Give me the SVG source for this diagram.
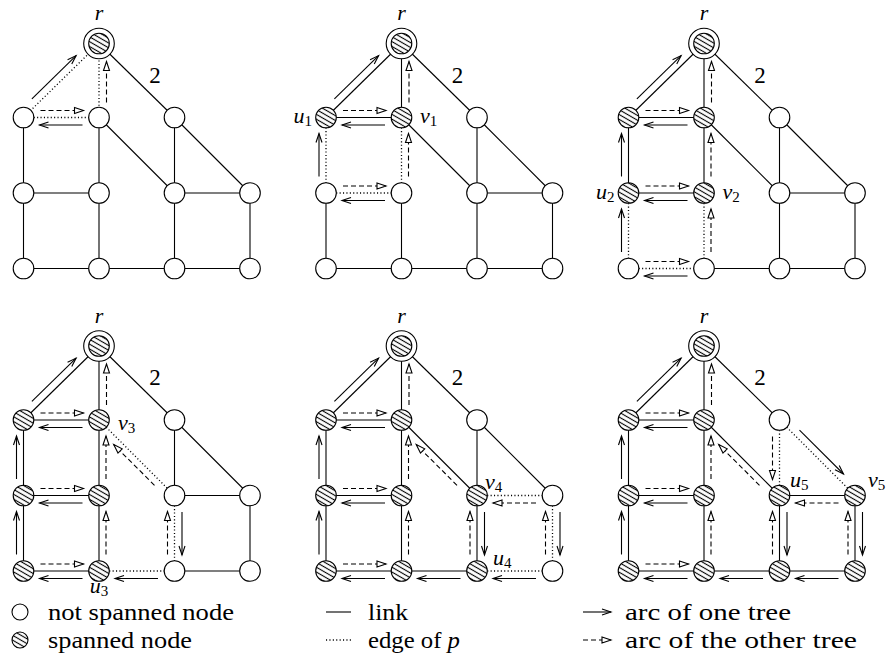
<svg xmlns="http://www.w3.org/2000/svg" width="887" height="661" viewBox="0 0 887 661">
<style>
.link{stroke:#000;stroke-width:1.1;fill:none}
.pe{stroke:#000;stroke-width:1.3;stroke-dasharray:1.1 2.3;fill:none}
.arc{stroke:#000;stroke-width:1.1;fill:none;marker-end:url(#ah)}
.arcd{stroke:#000;stroke-width:1.1;fill:none;stroke-dasharray:5 3;marker-end:url(#ahd)}
.n{fill:#fff;stroke:#000;stroke-width:1.1}
.s{fill:url(#hatch);stroke:#000;stroke-width:1.1}
.lab{font-family:"Liberation Serif","DejaVu Serif",serif;font-style:italic;font-size:22px;fill:#000}
.sub{font-size:15px;font-style:normal}
.num{font-family:"Liberation Serif","DejaVu Serif",serif;font-size:23px;fill:#000}
.leg{font-family:"Liberation Serif","DejaVu Serif",serif;font-size:23px;fill:#000}
</style>
<defs>
<pattern id="hatch" patternUnits="userSpaceOnUse" width="4.2" height="4.2" patternTransform="rotate(30)">
<rect width="4.2" height="4.2" fill="#fff"/>
<line x1="0" y1="2.1" x2="4.2" y2="2.1" stroke="#000" stroke-width="1.1"/>
</pattern>
<marker id="ah" markerUnits="userSpaceOnUse" markerWidth="12" markerHeight="8" refX="9" refY="3" orient="auto" overflow="visible">
<path d="M0,0 L9,3 L0,6" fill="none" stroke="#000" stroke-width="1.1"/>
</marker>
<marker id="ahd" markerUnits="userSpaceOnUse" markerWidth="12" markerHeight="8" refX="9" refY="3" orient="auto" overflow="visible">
<path d="M0,0 L9,3 L0,6 Z" fill="#fff" stroke="#000" stroke-width="1.1"/>
</marker>
</defs>

<!-- ================= PANEL 1 ================= -->
<g id="panel1" transform="translate(23.5,117.5)">
<g id="p1-connectors">
<line class="pe" x1="75.5" y1="-74" x2="0" y2="0"/>
<line class="pe" x1="75.5" y1="-74" x2="75.5" y2="0"/>
<line class="link" x1="75.5" y1="-74" x2="151" y2="0"/>
<line class="pe" x1="0" y1="0" x2="75.5" y2="0"/>
<line class="link" x1="0" y1="0" x2="0" y2="75.5"/>
<line class="link" x1="75.5" y1="0" x2="75.5" y2="75.5"/>
<line class="link" x1="75.5" y1="0" x2="151" y2="75.5"/>
<line class="link" x1="151" y1="0" x2="151" y2="75.5"/>
<line class="link" x1="151" y1="0" x2="226.5" y2="75.5"/>
<line class="link" x1="0" y1="75.5" x2="75.5" y2="75.5"/>
<line class="link" x1="151" y1="75.5" x2="226.5" y2="75.5"/>
<line class="link" x1="0" y1="75.5" x2="0" y2="151"/>
<line class="link" x1="75.5" y1="75.5" x2="75.5" y2="151"/>
<line class="link" x1="151" y1="75.5" x2="151" y2="151"/>
<line class="link" x1="226.5" y1="75.5" x2="226.5" y2="151"/>
<line class="link" x1="0" y1="151" x2="75.5" y2="151"/>
<line class="link" x1="75.5" y1="151" x2="151" y2="151"/>
<line class="link" x1="151" y1="151" x2="226.5" y2="151"/>
<line class="arc" x1="8.4" y1="-18.6" x2="52.6" y2="-61.9"/>
<line class="arcd" x1="83" y1="-15" x2="83" y2="-56"/>
<line class="arcd" x1="17" y1="-7" x2="60" y2="-7"/>
<line class="arc" x1="59" y1="7.5" x2="16" y2="7.5"/>
</g>
<g id="p1-r"><circle class="n" cx="75.5" cy="-74" r="15.3"/><circle class="s" cx="75.5" cy="-74" r="10.3"/></g>
<g id="p1-a"><circle class="n" cx="0" cy="0" r="10.3"/></g>
<g id="p1-b"><circle class="n" cx="75.5" cy="0" r="10.3"/></g>
<g id="p1-c"><circle class="n" cx="151" cy="0" r="10.3"/></g>
<g id="p1-d"><circle class="n" cx="0" cy="75.5" r="10.3"/></g>
<g id="p1-e"><circle class="n" cx="75.5" cy="75.5" r="10.3"/></g>
<g id="p1-f"><circle class="n" cx="151" cy="75.5" r="10.3"/></g>
<g id="p1-g"><circle class="n" cx="226.5" cy="75.5" r="10.3"/></g>
<g id="p1-h"><circle class="n" cx="0" cy="151" r="10.3"/></g>
<g id="p1-i"><circle class="n" cx="75.5" cy="151" r="10.3"/></g>
<g id="p1-j"><circle class="n" cx="151" cy="151" r="10.3"/></g>
<g id="p1-k"><circle class="n" cx="226.5" cy="151" r="10.3"/></g>
<text class="lab" x="75.5" y="-97.5" text-anchor="middle">r</text>
<text class="num" x="131.5" y="-35" text-anchor="middle">2</text>
</g>

<!-- ================= PANEL 2 ================= -->
<g id="panel2" transform="translate(326,117.5)">
<g id="p2-connectors">
<line class="link" x1="75.5" y1="-74" x2="0" y2="0"/>
<line class="link" x1="75.5" y1="-74" x2="75.5" y2="0"/>
<line class="link" x1="75.5" y1="-74" x2="151" y2="0"/>
<line class="link" x1="0" y1="0" x2="75.5" y2="0"/>
<line class="pe" x1="0" y1="0" x2="0" y2="75.5"/>
<line class="pe" x1="75.5" y1="0" x2="75.5" y2="75.5"/>
<line class="link" x1="75.5" y1="0" x2="151" y2="75.5"/>
<line class="link" x1="151" y1="0" x2="151" y2="75.5"/>
<line class="link" x1="151" y1="0" x2="226.5" y2="75.5"/>
<line class="pe" x1="0" y1="75.5" x2="75.5" y2="75.5"/>
<line class="link" x1="151" y1="75.5" x2="226.5" y2="75.5"/>
<line class="link" x1="0" y1="75.5" x2="0" y2="151"/>
<line class="link" x1="75.5" y1="75.5" x2="75.5" y2="151"/>
<line class="link" x1="151" y1="75.5" x2="151" y2="151"/>
<line class="link" x1="226.5" y1="75.5" x2="226.5" y2="151"/>
<line class="link" x1="0" y1="151" x2="75.5" y2="151"/>
<line class="link" x1="75.5" y1="151" x2="151" y2="151"/>
<line class="link" x1="151" y1="151" x2="226.5" y2="151"/>
<line class="arc" x1="8.4" y1="-18.6" x2="52.6" y2="-61.9"/>
<line class="arcd" x1="83" y1="-15" x2="83" y2="-56"/>
<line class="arcd" x1="17" y1="-7" x2="60" y2="-7"/>
<line class="arc" x1="59" y1="7.5" x2="16" y2="7.5"/>
<line class="arc" x1="-7" y1="59" x2="-7" y2="16"/>
<line class="arcd" x1="82.5" y1="59" x2="82.5" y2="16"/>
<line class="arcd" x1="17" y1="68.5" x2="60" y2="68.5"/>
<line class="arc" x1="59" y1="83" x2="16" y2="83"/>
</g>
<g id="p2-r"><circle class="n" cx="75.5" cy="-74" r="15.3"/><circle class="s" cx="75.5" cy="-74" r="10.3"/></g>
<g id="p2-a"><circle class="s" cx="0" cy="0" r="10.3"/></g>
<g id="p2-b"><circle class="s" cx="75.5" cy="0" r="10.3"/></g>
<g id="p2-c"><circle class="n" cx="151" cy="0" r="10.3"/></g>
<g id="p2-d"><circle class="n" cx="0" cy="75.5" r="10.3"/></g>
<g id="p2-e"><circle class="n" cx="75.5" cy="75.5" r="10.3"/></g>
<g id="p2-f"><circle class="n" cx="151" cy="75.5" r="10.3"/></g>
<g id="p2-g"><circle class="n" cx="226.5" cy="75.5" r="10.3"/></g>
<g id="p2-h"><circle class="n" cx="0" cy="151" r="10.3"/></g>
<g id="p2-i"><circle class="n" cx="75.5" cy="151" r="10.3"/></g>
<g id="p2-j"><circle class="n" cx="151" cy="151" r="10.3"/></g>
<g id="p2-k"><circle class="n" cx="226.5" cy="151" r="10.3"/></g>
<text class="lab" x="75.5" y="-97.5" text-anchor="middle">r</text>
<text class="num" x="131.5" y="-35" text-anchor="middle">2</text>
<text class="lab" x="-14" y="5.5" text-anchor="end">u<tspan class="sub" dy="3">1</tspan></text>
<text class="lab" x="94" y="5.5">v<tspan class="sub" dy="3">1</tspan></text>
</g>

<!-- ================= PANEL 3 ================= -->
<g id="panel3" transform="translate(628.5,117.5)">
<g id="p3-connectors">
<line class="link" x1="75.5" y1="-74" x2="0" y2="0"/>
<line class="link" x1="75.5" y1="-74" x2="75.5" y2="0"/>
<line class="link" x1="75.5" y1="-74" x2="151" y2="0"/>
<line class="link" x1="0" y1="0" x2="75.5" y2="0"/>
<line class="link" x1="0" y1="0" x2="0" y2="75.5"/>
<line class="link" x1="75.5" y1="0" x2="75.5" y2="75.5"/>
<line class="link" x1="75.5" y1="0" x2="151" y2="75.5"/>
<line class="link" x1="151" y1="0" x2="151" y2="75.5"/>
<line class="link" x1="151" y1="0" x2="226.5" y2="75.5"/>
<line class="link" x1="0" y1="75.5" x2="75.5" y2="75.5"/>
<line class="link" x1="151" y1="75.5" x2="226.5" y2="75.5"/>
<line class="pe" x1="0" y1="75.5" x2="0" y2="151"/>
<line class="pe" x1="75.5" y1="75.5" x2="75.5" y2="151"/>
<line class="link" x1="151" y1="75.5" x2="151" y2="151"/>
<line class="link" x1="226.5" y1="75.5" x2="226.5" y2="151"/>
<line class="pe" x1="0" y1="151" x2="75.5" y2="151"/>
<line class="link" x1="75.5" y1="151" x2="151" y2="151"/>
<line class="link" x1="151" y1="151" x2="226.5" y2="151"/>
<line class="arc" x1="8.4" y1="-18.6" x2="52.6" y2="-61.9"/>
<line class="arcd" x1="83" y1="-15" x2="83" y2="-56"/>
<line class="arcd" x1="17" y1="-7" x2="60" y2="-7"/>
<line class="arc" x1="59" y1="7.5" x2="16" y2="7.5"/>
<line class="arc" x1="-7" y1="59" x2="-7" y2="16"/>
<line class="arcd" x1="82.5" y1="59" x2="82.5" y2="16"/>
<line class="arcd" x1="17" y1="68.5" x2="60" y2="68.5"/>
<line class="arc" x1="59" y1="83" x2="16" y2="83"/>
<line class="arc" x1="-7" y1="134.5" x2="-7" y2="91.5"/>
<line class="arcd" x1="82.5" y1="134.5" x2="82.5" y2="91.5"/>
<line class="arcd" x1="17" y1="144" x2="60" y2="144"/>
<line class="arc" x1="59" y1="158.5" x2="16" y2="158.5"/>
</g>
<g id="p3-r"><circle class="n" cx="75.5" cy="-74" r="15.3"/><circle class="s" cx="75.5" cy="-74" r="10.3"/></g>
<g id="p3-a"><circle class="s" cx="0" cy="0" r="10.3"/></g>
<g id="p3-b"><circle class="s" cx="75.5" cy="0" r="10.3"/></g>
<g id="p3-c"><circle class="n" cx="151" cy="0" r="10.3"/></g>
<g id="p3-d"><circle class="s" cx="0" cy="75.5" r="10.3"/></g>
<g id="p3-e"><circle class="s" cx="75.5" cy="75.5" r="10.3"/></g>
<g id="p3-f"><circle class="n" cx="151" cy="75.5" r="10.3"/></g>
<g id="p3-g"><circle class="n" cx="226.5" cy="75.5" r="10.3"/></g>
<g id="p3-h"><circle class="n" cx="0" cy="151" r="10.3"/></g>
<g id="p3-i"><circle class="n" cx="75.5" cy="151" r="10.3"/></g>
<g id="p3-j"><circle class="n" cx="151" cy="151" r="10.3"/></g>
<g id="p3-k"><circle class="n" cx="226.5" cy="151" r="10.3"/></g>
<text class="lab" x="75.5" y="-97.5" text-anchor="middle">r</text>
<text class="num" x="131.5" y="-35" text-anchor="middle">2</text>
<text class="lab" x="-14" y="81" text-anchor="end">u<tspan class="sub" dy="3">2</tspan></text>
<text class="lab" x="94" y="81">v<tspan class="sub" dy="3">2</tspan></text>
</g>

<!-- ================= PANEL 4 ================= -->
<g id="panel4" transform="translate(23.5,420)">
<g id="p4-connectors">
<line class="link" x1="75.5" y1="-74" x2="0" y2="0"/>
<line class="link" x1="75.5" y1="-74" x2="75.5" y2="0"/>
<line class="link" x1="75.5" y1="-74" x2="151" y2="0"/>
<line class="link" x1="0" y1="0" x2="75.5" y2="0"/>
<line class="link" x1="0" y1="0" x2="0" y2="75.5"/>
<line class="link" x1="75.5" y1="0" x2="75.5" y2="75.5"/>
<line class="pe" x1="75.5" y1="0" x2="151" y2="75.5"/>
<line class="link" x1="151" y1="0" x2="151" y2="75.5"/>
<line class="link" x1="151" y1="0" x2="226.5" y2="75.5"/>
<line class="link" x1="0" y1="75.5" x2="75.5" y2="75.5"/>
<line class="link" x1="151" y1="75.5" x2="226.5" y2="75.5"/>
<line class="link" x1="0" y1="75.5" x2="0" y2="151"/>
<line class="link" x1="75.5" y1="75.5" x2="75.5" y2="151"/>
<line class="pe" x1="151" y1="75.5" x2="151" y2="151"/>
<line class="link" x1="226.5" y1="75.5" x2="226.5" y2="151"/>
<line class="link" x1="0" y1="151" x2="75.5" y2="151"/>
<line class="pe" x1="75.5" y1="151" x2="151" y2="151"/>
<line class="link" x1="151" y1="151" x2="226.5" y2="151"/>
<line class="arc" x1="8.4" y1="-18.6" x2="52.6" y2="-61.9"/>
<line class="arcd" x1="83" y1="-15" x2="83" y2="-56"/>
<line class="arcd" x1="17" y1="-7" x2="60" y2="-7"/>
<line class="arc" x1="59" y1="7.5" x2="16" y2="7.5"/>
<line class="arc" x1="-7" y1="59" x2="-7" y2="16"/>
<line class="arcd" x1="82.5" y1="59" x2="82.5" y2="16"/>
<line class="arcd" x1="17" y1="68.5" x2="60" y2="68.5"/>
<line class="arc" x1="59" y1="83" x2="16" y2="83"/>
<line class="arc" x1="-7" y1="134.5" x2="-7" y2="91.5"/>
<line class="arcd" x1="82.5" y1="134.5" x2="82.5" y2="91.5"/>
<line class="arcd" x1="17" y1="144" x2="60" y2="144"/>
<line class="arc" x1="59" y1="158.5" x2="16" y2="158.5"/>
<line class="arcd" x1="131" y1="65.3" x2="90.2" y2="24.6"/>
<line class="arcd" x1="144" y1="134.5" x2="144" y2="91.5"/>
<line class="arc" x1="158.5" y1="92" x2="158.5" y2="135"/>
<line class="arc" x1="134.5" y1="158.5" x2="91.5" y2="158.5"/>
</g>
<g id="p4-r"><circle class="n" cx="75.5" cy="-74" r="15.3"/><circle class="s" cx="75.5" cy="-74" r="10.3"/></g>
<g id="p4-a"><circle class="s" cx="0" cy="0" r="10.3"/></g>
<g id="p4-b"><circle class="s" cx="75.5" cy="0" r="10.3"/></g>
<g id="p4-c"><circle class="n" cx="151" cy="0" r="10.3"/></g>
<g id="p4-d"><circle class="s" cx="0" cy="75.5" r="10.3"/></g>
<g id="p4-e"><circle class="s" cx="75.5" cy="75.5" r="10.3"/></g>
<g id="p4-f"><circle class="n" cx="151" cy="75.5" r="10.3"/></g>
<g id="p4-g"><circle class="n" cx="226.5" cy="75.5" r="10.3"/></g>
<g id="p4-h"><circle class="s" cx="0" cy="151" r="10.3"/></g>
<g id="p4-i"><circle class="s" cx="75.5" cy="151" r="10.3"/></g>
<g id="p4-j"><circle class="n" cx="151" cy="151" r="10.3"/></g>
<g id="p4-k"><circle class="n" cx="226.5" cy="151" r="10.3"/></g>
<text class="lab" x="75.5" y="-97.5" text-anchor="middle">r</text>
<text class="num" x="131.5" y="-35" text-anchor="middle">2</text>
<text class="lab" x="94.5" y="10">v<tspan class="sub" dy="3">3</tspan></text>
<text class="lab" x="75.5" y="173" text-anchor="middle">u<tspan class="sub" dy="3">3</tspan></text>
</g>

<!-- ================= PANEL 5 ================= -->
<g id="panel5" transform="translate(326,420)">
<g id="p5-connectors">
<line class="link" x1="75.5" y1="-74" x2="0" y2="0"/>
<line class="link" x1="75.5" y1="-74" x2="75.5" y2="0"/>
<line class="link" x1="75.5" y1="-74" x2="151" y2="0"/>
<line class="link" x1="0" y1="0" x2="75.5" y2="0"/>
<line class="link" x1="0" y1="0" x2="0" y2="75.5"/>
<line class="link" x1="75.5" y1="0" x2="75.5" y2="75.5"/>
<line class="link" x1="75.5" y1="0" x2="151" y2="75.5"/>
<line class="link" x1="151" y1="0" x2="151" y2="75.5"/>
<line class="link" x1="151" y1="0" x2="226.5" y2="75.5"/>
<line class="link" x1="0" y1="75.5" x2="75.5" y2="75.5"/>
<line class="pe" x1="151" y1="75.5" x2="226.5" y2="75.5"/>
<line class="link" x1="0" y1="75.5" x2="0" y2="151"/>
<line class="link" x1="75.5" y1="75.5" x2="75.5" y2="151"/>
<line class="link" x1="151" y1="75.5" x2="151" y2="151"/>
<line class="pe" x1="226.5" y1="75.5" x2="226.5" y2="151"/>
<line class="link" x1="0" y1="151" x2="75.5" y2="151"/>
<line class="link" x1="75.5" y1="151" x2="151" y2="151"/>
<line class="pe" x1="151" y1="151" x2="226.5" y2="151"/>
<line class="arc" x1="8.4" y1="-18.6" x2="52.6" y2="-61.9"/>
<line class="arcd" x1="83" y1="-15" x2="83" y2="-56"/>
<line class="arcd" x1="17" y1="-7" x2="60" y2="-7"/>
<line class="arc" x1="59" y1="7.5" x2="16" y2="7.5"/>
<line class="arc" x1="-7" y1="59" x2="-7" y2="16"/>
<line class="arcd" x1="82.5" y1="59" x2="82.5" y2="16"/>
<line class="arcd" x1="17" y1="68.5" x2="60" y2="68.5"/>
<line class="arc" x1="59" y1="83" x2="16" y2="83"/>
<line class="arc" x1="-7" y1="134.5" x2="-7" y2="91.5"/>
<line class="arcd" x1="82.5" y1="134.5" x2="82.5" y2="91.5"/>
<line class="arcd" x1="17" y1="144" x2="60" y2="144"/>
<line class="arc" x1="59" y1="158.5" x2="16" y2="158.5"/>
<line class="arcd" x1="131" y1="65.3" x2="90.2" y2="24.6"/>
<line class="arcd" x1="144" y1="134.5" x2="144" y2="91.5"/>
<line class="arc" x1="158.5" y1="92" x2="158.5" y2="135"/>
<line class="arc" x1="134.5" y1="158.5" x2="91.5" y2="158.5"/>
<line class="arcd" x1="210" y1="83" x2="167" y2="83"/>
<line class="arcd" x1="219.5" y1="134.5" x2="219.5" y2="91.5"/>
<line class="arc" x1="234" y1="92" x2="234" y2="135"/>
<line class="arc" x1="210" y1="158.5" x2="167" y2="158.5"/>
</g>
<g id="p5-r"><circle class="n" cx="75.5" cy="-74" r="15.3"/><circle class="s" cx="75.5" cy="-74" r="10.3"/></g>
<g id="p5-a"><circle class="s" cx="0" cy="0" r="10.3"/></g>
<g id="p5-b"><circle class="s" cx="75.5" cy="0" r="10.3"/></g>
<g id="p5-c"><circle class="n" cx="151" cy="0" r="10.3"/></g>
<g id="p5-d"><circle class="s" cx="0" cy="75.5" r="10.3"/></g>
<g id="p5-e"><circle class="s" cx="75.5" cy="75.5" r="10.3"/></g>
<g id="p5-f"><circle class="s" cx="151" cy="75.5" r="10.3"/></g>
<g id="p5-g"><circle class="n" cx="226.5" cy="75.5" r="10.3"/></g>
<g id="p5-h"><circle class="s" cx="0" cy="151" r="10.3"/></g>
<g id="p5-i"><circle class="s" cx="75.5" cy="151" r="10.3"/></g>
<g id="p5-j"><circle class="s" cx="151" cy="151" r="10.3"/></g>
<g id="p5-k"><circle class="n" cx="226.5" cy="151" r="10.3"/></g>
<text class="lab" x="75.5" y="-97.5" text-anchor="middle">r</text>
<text class="num" x="131.5" y="-35" text-anchor="middle">2</text>
<text class="lab" x="159" y="69">v<tspan class="sub" dy="3">4</tspan></text>
<text class="lab" x="167" y="145">u<tspan class="sub" dy="3">4</tspan></text>
</g>

<!-- ================= PANEL 6 ================= -->
<g id="panel6" transform="translate(628.5,420)">
<g id="p6-connectors">
<line class="link" x1="75.5" y1="-74" x2="0" y2="0"/>
<line class="link" x1="75.5" y1="-74" x2="75.5" y2="0"/>
<line class="link" x1="75.5" y1="-74" x2="151" y2="0"/>
<line class="link" x1="0" y1="0" x2="75.5" y2="0"/>
<line class="link" x1="0" y1="0" x2="0" y2="75.5"/>
<line class="link" x1="75.5" y1="0" x2="75.5" y2="75.5"/>
<line class="link" x1="75.5" y1="0" x2="151" y2="75.5"/>
<line class="pe" x1="151" y1="0" x2="151" y2="75.5"/>
<line class="pe" x1="151" y1="0" x2="226.5" y2="75.5"/>
<line class="link" x1="0" y1="75.5" x2="75.5" y2="75.5"/>
<line class="link" x1="151" y1="75.5" x2="226.5" y2="75.5"/>
<line class="link" x1="0" y1="75.5" x2="0" y2="151"/>
<line class="link" x1="75.5" y1="75.5" x2="75.5" y2="151"/>
<line class="link" x1="151" y1="75.5" x2="151" y2="151"/>
<line class="link" x1="226.5" y1="75.5" x2="226.5" y2="151"/>
<line class="link" x1="0" y1="151" x2="75.5" y2="151"/>
<line class="link" x1="75.5" y1="151" x2="151" y2="151"/>
<line class="link" x1="151" y1="151" x2="226.5" y2="151"/>
<line class="arc" x1="8.4" y1="-18.6" x2="52.6" y2="-61.9"/>
<line class="arcd" x1="83" y1="-15" x2="83" y2="-56"/>
<line class="arcd" x1="17" y1="-7" x2="60" y2="-7"/>
<line class="arc" x1="59" y1="7.5" x2="16" y2="7.5"/>
<line class="arc" x1="-7" y1="59" x2="-7" y2="16"/>
<line class="arcd" x1="82.5" y1="59" x2="82.5" y2="16"/>
<line class="arcd" x1="17" y1="68.5" x2="60" y2="68.5"/>
<line class="arc" x1="59" y1="83" x2="16" y2="83"/>
<line class="arc" x1="-7" y1="134.5" x2="-7" y2="91.5"/>
<line class="arcd" x1="82.5" y1="134.5" x2="82.5" y2="91.5"/>
<line class="arcd" x1="17" y1="144" x2="60" y2="144"/>
<line class="arc" x1="59" y1="158.5" x2="16" y2="158.5"/>
<line class="arcd" x1="131" y1="65.3" x2="90.2" y2="24.6"/>
<line class="arcd" x1="144" y1="134.5" x2="144" y2="91.5"/>
<line class="arc" x1="158.5" y1="92" x2="158.5" y2="135"/>
<line class="arc" x1="134.5" y1="158.5" x2="91.5" y2="158.5"/>
<line class="arcd" x1="210" y1="83" x2="167" y2="83"/>
<line class="arcd" x1="219.5" y1="134.5" x2="219.5" y2="91.5"/>
<line class="arc" x1="234" y1="92" x2="234" y2="135"/>
<line class="arc" x1="210" y1="158.5" x2="167" y2="158.5"/>
<line class="arcd" x1="144" y1="16.5" x2="144" y2="59.5"/>
<line class="arc" x1="171" y1="10.2" x2="215" y2="54"/>
</g>
<g id="p6-r"><circle class="n" cx="75.5" cy="-74" r="15.3"/><circle class="s" cx="75.5" cy="-74" r="10.3"/></g>
<g id="p6-a"><circle class="s" cx="0" cy="0" r="10.3"/></g>
<g id="p6-b"><circle class="s" cx="75.5" cy="0" r="10.3"/></g>
<g id="p6-c"><circle class="n" cx="151" cy="0" r="10.3"/></g>
<g id="p6-d"><circle class="s" cx="0" cy="75.5" r="10.3"/></g>
<g id="p6-e"><circle class="s" cx="75.5" cy="75.5" r="10.3"/></g>
<g id="p6-f"><circle class="s" cx="151" cy="75.5" r="10.3"/></g>
<g id="p6-g"><circle class="s" cx="226.5" cy="75.5" r="10.3"/></g>
<g id="p6-h"><circle class="s" cx="0" cy="151" r="10.3"/></g>
<g id="p6-i"><circle class="s" cx="75.5" cy="151" r="10.3"/></g>
<g id="p6-j"><circle class="s" cx="151" cy="151" r="10.3"/></g>
<g id="p6-k"><circle class="s" cx="226.5" cy="151" r="10.3"/></g>
<text class="lab" x="75.5" y="-97.5" text-anchor="middle">r</text>
<text class="num" x="131.5" y="-35" text-anchor="middle">2</text>
<text class="lab" x="161.5" y="67">u<tspan class="sub" dy="3">5</tspan></text>
<text class="lab" x="239.5" y="67">v<tspan class="sub" dy="3">5</tspan></text>
</g>

<!-- ================= LEGEND ================= -->
<g id="legend">
<g id="leg-notspanned"><circle class="n" cx="20" cy="612" r="8"/><text class="leg" x="48" y="620" textLength="186" lengthAdjust="spacingAndGlyphs">not spanned node</text></g>
<g id="leg-spanned"><circle class="s" cx="20" cy="640" r="8"/><text class="leg" x="48" y="648" textLength="144" lengthAdjust="spacingAndGlyphs">spanned node</text></g>
<g id="leg-link"><line class="link" x1="326" y1="612" x2="351" y2="612"/><text class="leg" x="368" y="620" textLength="40" lengthAdjust="spacingAndGlyphs">link</text></g>
<g id="leg-edge"><line class="pe" x1="326" y1="640" x2="351" y2="640"/><text class="leg" x="368" y="648" textLength="92" lengthAdjust="spacingAndGlyphs">edge of <tspan font-style="italic">p</tspan></text></g>
<g id="leg-arc1"><line class="arc" x1="583" y1="612" x2="611" y2="612"/><text class="leg" x="625" y="620" textLength="166" lengthAdjust="spacingAndGlyphs">arc of one tree</text></g>
<g id="leg-arc2"><line class="arcd" x1="583" y1="640" x2="611" y2="640"/><text class="leg" x="625" y="648" textLength="232" lengthAdjust="spacingAndGlyphs">arc of the other tree</text></g>
</g>
</svg>
